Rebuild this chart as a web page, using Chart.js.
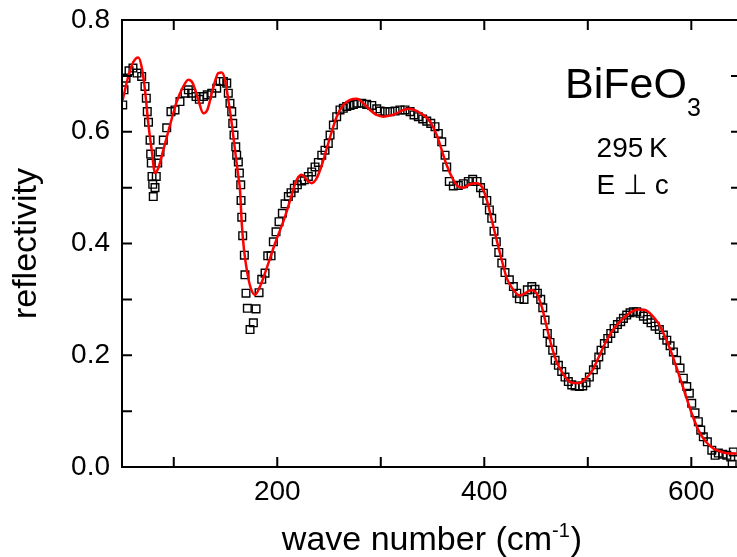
<!DOCTYPE html>
<html>
<head>
<meta charset="utf-8">
<script src="https://cdn.jsdelivr.net/npm/chart.js@4/dist/chart.umd.min.js"></script>
<style>
  html, body { margin: 0; padding: 0; background: #fff; overflow: hidden; }
  #wrap { width: 741px; height: 557px; }
</style>
</head>
<body>
<div id="wrap"><canvas id="myChart"></canvas></div>
<script>
// measured spectrum (open squares)
const expWave = [50.7, 51.9, 53.9, 56.8, 60.6, 64.5, 69.0, 72.2, 73.5, 74.4, 75.6, 77.1, 77.7, 78.3, 79.0, 79.7, 80.2, 81.9, 83.1, 84.5,
  86.7, 89.9, 93.2, 97.3, 101.2, 106.0, 110.9, 114.1, 117.3, 121.5, 124.7, 128.6, 132.4, 136.7, 141.5, 144.7, 147.9, 151.2, 152.7, 154.3,
  156.0, 157.0, 158.2, 159.9, 160.8, 162.4, 163.4, 164.7, 165.0, 165.7, 166.6, 168.2, 168.8, 169.8, 171.1, 173.7, 176.9, 179.5, 182.4, 185.0,
  188.2, 190.8, 194.0, 196.2, 198.8, 201.7, 204.9, 207.5, 210.7, 213.3, 216.5, 219.4, 223.6, 226.1, 230.0, 233.3, 236.5, 239.7, 243.0, 246.1,
  249.3, 251.0, 254.2, 257.4, 260.6, 263.8, 267.1, 270.3, 273.5, 276.8, 281.6, 286.4, 291.3, 296.1, 299.3, 304.1, 308.9, 313.8, 318.6, 323.4,
  328.3, 332.1, 336.3, 340.5, 344.4, 348.3, 352.4, 355.6, 358.9, 362.1, 363.7, 366.2, 370.1, 374.9, 379.8, 384.6, 388.8, 393.0, 396.4, 399.1,
  402.4, 404.9, 407.2, 409.4, 411.6, 414.0, 416.9, 420.0, 424.2, 428.1, 431.4, 433.9, 438.4, 441.6, 445.9, 449.0, 451.3, 454.5, 456.5, 458.7,
  460.9, 463.5, 466.1, 468.4, 471.6, 474.8, 478.0, 481.2, 484.5, 487.7, 491.8, 495.1, 498.3, 501.5, 505.4, 508.0, 510.6, 512.8, 516.0, 519.3,
  522.2, 525.4, 528.6, 531.8, 534.4, 537.6, 540.8, 544.0, 547.3, 550.5, 553.7, 557.5, 561.1, 565.0, 569.1, 573.0, 576.3, 579.5, 582.7, 585.9,
  589.1, 592.3, 595.6, 598.1, 600.4, 603.6, 606.8, 609.1, 611.6, 615.5, 619.8, 623.0, 626.1, 630.4, 634.3, 638.1, 639.5, 640.6];
const expRefl = [0.648, 0.675, 0.696, 0.709, 0.714, 0.705, 0.699, 0.681, 0.660, 0.636, 0.617, 0.585, 0.560, 0.544, 0.520, 0.506, 0.484, 0.500, 0.520, 0.544,
  0.564, 0.585, 0.607, 0.636, 0.639, 0.654, 0.669, 0.675, 0.669, 0.663, 0.658, 0.663, 0.666, 0.669, 0.678, 0.690, 0.690, 0.687, 0.669, 0.651,
  0.636, 0.615, 0.594, 0.573, 0.558, 0.546, 0.526, 0.505, 0.477, 0.447, 0.414, 0.379, 0.344, 0.311, 0.284, 0.246, 0.258, 0.283, 0.312, 0.336,
  0.347, 0.378, 0.378, 0.403, 0.421, 0.439, 0.454, 0.471, 0.484, 0.491, 0.499, 0.505, 0.512, 0.514, 0.520, 0.528, 0.537, 0.545, 0.558, 0.567,
  0.579, 0.594, 0.612, 0.627, 0.639, 0.642, 0.645, 0.647, 0.649, 0.651, 0.651, 0.649, 0.647, 0.641, 0.637, 0.636, 0.636, 0.637, 0.639, 0.639,
  0.636, 0.630, 0.627, 0.623, 0.619, 0.615, 0.609, 0.597, 0.582, 0.558, 0.537, 0.511, 0.503, 0.504, 0.507, 0.511, 0.515, 0.511, 0.500, 0.490,
  0.477, 0.460, 0.445, 0.422, 0.403, 0.384, 0.365, 0.348, 0.335, 0.323, 0.311, 0.301, 0.300, 0.317, 0.323, 0.318, 0.311, 0.300, 0.285, 0.263,
  0.239, 0.223, 0.209, 0.191, 0.182, 0.171, 0.161, 0.153, 0.147, 0.145, 0.144, 0.145, 0.151, 0.161, 0.174, 0.183, 0.197, 0.209, 0.221, 0.230,
  0.239, 0.248, 0.255, 0.260, 0.266, 0.272, 0.276, 0.278, 0.278, 0.275, 0.270, 0.264, 0.258, 0.252, 0.246, 0.236, 0.227, 0.217, 0.206, 0.191,
  0.177, 0.159, 0.144, 0.132, 0.114, 0.097, 0.081, 0.066, 0.054, 0.045, 0.030, 0.021, 0.025, 0.023, 0.021, 0.018, 0.005, 0.027];

// model fit (red curve)
const fitWave = [50.7, 56.1, 61.0, 65.7, 69.0, 72.2, 75.4, 78.7, 81.9, 85.1, 89.9, 96.4, 102.9, 109.2, 114.1, 118.3, 123.7, 128.6, 132.4, 137.6,
  143.0, 146.3, 149.5, 152.7, 156.0, 159.2, 162.4, 164.0, 165.7, 167.9, 171.1, 174.4, 178.5, 183.3, 189.8, 197.8, 207.5, 214.0, 218.8, 223.6,
  228.5, 233.3, 238.1, 243.0, 247.8, 252.6, 257.4, 263.8, 270.3, 276.8, 283.1, 289.6, 296.1, 302.5, 308.9, 315.4, 321.8, 328.3, 334.7, 341.1,
  347.6, 354.1, 358.9, 363.7, 370.1, 374.9, 379.8, 386.2, 392.7, 397.5, 402.4, 407.2, 412.0, 416.9, 421.7, 428.1, 433.9, 439.4, 445.9, 450.7,
  455.5, 460.3, 465.2, 470.0, 476.4, 482.9, 490.9, 497.4, 503.8, 510.2, 516.7, 523.1, 529.5, 536.0, 542.5, 548.9, 555.3, 561.8, 568.2, 574.6,
  581.1, 587.5, 593.9, 600.4, 606.8, 613.3, 621.3, 629.4, 637.4, 643.9];
const fitRefl = [0.657, 0.699, 0.725, 0.733, 0.716, 0.675, 0.615, 0.567, 0.526, 0.535, 0.567, 0.612, 0.654, 0.681, 0.693, 0.687, 0.657, 0.633, 0.639, 0.675,
  0.705, 0.706, 0.693, 0.657, 0.615, 0.567, 0.520, 0.496, 0.436, 0.388, 0.347, 0.320, 0.308, 0.323, 0.356, 0.400, 0.448, 0.487, 0.514, 0.523,
  0.514, 0.508, 0.517, 0.540, 0.570, 0.600, 0.627, 0.648, 0.657, 0.659, 0.651, 0.639, 0.630, 0.627, 0.629, 0.633, 0.639, 0.641, 0.637, 0.630,
  0.618, 0.594, 0.567, 0.540, 0.514, 0.502, 0.500, 0.506, 0.508, 0.502, 0.478, 0.442, 0.406, 0.370, 0.338, 0.317, 0.307, 0.311, 0.317, 0.310,
  0.287, 0.251, 0.215, 0.188, 0.166, 0.152, 0.150, 0.157, 0.171, 0.195, 0.221, 0.242, 0.257, 0.269, 0.278, 0.282, 0.281, 0.272, 0.257, 0.233,
  0.203, 0.168, 0.132, 0.096, 0.066, 0.047, 0.033, 0.027, 0.024, 0.024];

// axis ticks (every tick gets a mark, only some get a label)
const xTicks = [100, 200, 300, 400, 500, 600];
const xLabelTicks = [200, 400, 600];
const yTicks = [0, 0.1, 0.2, 0.3, 0.4, 0.5, 0.6, 0.7, 0.8];
const yLabelTicks = [0, 0.2, 0.4, 0.6, 0.8];

const xMin = 50, xMax = 648;
const yMin = 0, yMax = 0.8;

const FONT = '"Liberation Sans", Arial, sans-serif';

// frame, inward ticks, axis titles and labels
const framePlugin = {
  id: 'frame',
  afterDraw(chart) {
    const ctx = chart.ctx;
    const a = chart.chartArea;
    const xs = chart.scales.x, ys = chart.scales.y;
    const tl = 10;
    ctx.save();
    ctx.strokeStyle = '#000';
    ctx.lineWidth = 2;
    ctx.strokeRect(a.left, a.top, a.right - a.left, a.bottom - a.top);
    ctx.beginPath();
    xs.ticks.forEach(t => {
      const px = xs.getPixelForValue(t.value);
      ctx.moveTo(px, a.bottom); ctx.lineTo(px, a.bottom - tl);
      ctx.moveTo(px, a.top); ctx.lineTo(px, a.top + tl);
    });
    ys.ticks.forEach(t => {
      const py = ys.getPixelForValue(t.value);
      ctx.moveTo(a.left, py); ctx.lineTo(a.left + tl, py);
      ctx.moveTo(a.right, py); ctx.lineTo(a.right - tl, py);
    });
    ctx.stroke();

    ctx.fillStyle = '#000';
    // y title
    ctx.save();
    ctx.translate(27, (a.top + a.bottom) / 2);
    ctx.rotate(-Math.PI / 2);
    ctx.font = '34px ' + FONT;
    ctx.textAlign = 'center';
    ctx.textBaseline = 'middle';
    ctx.fillText('reflectivity', 0, 0);
    ctx.restore();

    // x title with superscript
    const main = 'wave number (cm', sup = '-1', close = ')';
    ctx.textBaseline = 'alphabetic';
    ctx.textAlign = 'left';
    ctx.font = '34px ' + FONT;
    const w1 = ctx.measureText(main).width, w3 = ctx.measureText(close).width;
    ctx.font = '20px ' + FONT;
    const w2 = ctx.measureText(sup).width;
    let x0 = (a.left + a.right) / 2 - (w1 + w2 + w3) / 2;
    const base = 550;
    ctx.font = '34px ' + FONT;
    ctx.fillText(main, x0, base);
    ctx.font = '20px ' + FONT;
    ctx.fillText(sup, x0 + w1, base - 13);
    ctx.font = '34px ' + FONT;
    ctx.fillText(close, x0 + w1 + w2 + 1, base);

    // sample label
    const lx = xs.getPixelForValue(478);
    ctx.font = '43px ' + FONT;
    ctx.fillText('BiFeO', lx, ys.getPixelForValue(0.660));
    const wb = ctx.measureText('BiFeO').width;
    ctx.font = '25px ' + FONT;
    ctx.fillText('3', lx + wb, ys.getPixelForValue(0.628));
    ctx.font = '28px ' + FONT;
    const sx = xs.getPixelForValue(508.5);
    ctx.fillText('295\u2009K', sx, ys.getPixelForValue(0.555));
    ctx.fillText('E \u22a5 c', sx, ys.getPixelForValue(0.489));
    ctx.restore();
  }
};

const ctx = document.getElementById('myChart').getContext('2d');
const myChart = new Chart(ctx, {
  type: 'scatter',
  data: {
    datasets: [{
      label: 'fit',
      data: fitWave.map((w, i) => ({ x: w, y: fitRefl[i] })),
      showLine: true,
      borderColor: '#ff0000',
      borderWidth: 2.5,
      pointRadius: 0,
      pointHoverRadius: 0,
      cubicInterpolationMode: 'monotone'
    }, {
      label: 'exp',
      data: expWave.map((w, i) => ({ x: w, y: expRefl[i] })),
      showLine: false,
      pointStyle: 'rect',
      pointRadius: 5.4,
      pointHoverRadius: 5.4,
      borderColor: '#000',
      borderWidth: 1.4,
      backgroundColor: 'rgba(0,0,0,0)'
    }]
  },
  options: {
    responsive: true,
    maintainAspectRatio: false,
    animation: false,
    events: [],
    layout: { autoPadding: false, padding: { top: 20, left: 0, right: 0, bottom: 0 } },
    plugins: { legend: { display: false }, tooltip: { enabled: false } },
    scales: {
      x: {
        type: 'linear',
        min: xMin,
        max: xMax,
        afterFit: s => { s.height = 90; s.paddingLeft = 0; s.paddingRight = 0; },
        afterBuildTicks: s => { s.ticks = xTicks.map(v => ({ value: v })); },
        grid: { display: false, drawTicks: false },
        border: { display: false },
        ticks: {
          autoSkip: false,
          maxRotation: 0,
          padding: 8,
          color: '#000',
          font: { family: FONT, size: 28 },
          callback: v => (xLabelTicks.includes(v) ? String(v) : '')
        }
      },
      y: {
        type: 'linear',
        min: yMin,
        max: yMax,
        afterFit: s => { s.width = 122; s.paddingTop = 0; s.paddingBottom = 0; },
        afterBuildTicks: s => { s.ticks = yTicks.map(v => ({ value: v })); },
        grid: { display: false, drawTicks: false },
        border: { display: false },
        ticks: {
          autoSkip: false,
          padding: 12,
          color: '#000',
          font: { family: FONT, size: 28 },
          callback: v => (yLabelTicks.includes(v) ? v.toFixed(1) : '')
        }
      }
    }
  },
  plugins: [framePlugin]
});
</script>
</body>
</html>
